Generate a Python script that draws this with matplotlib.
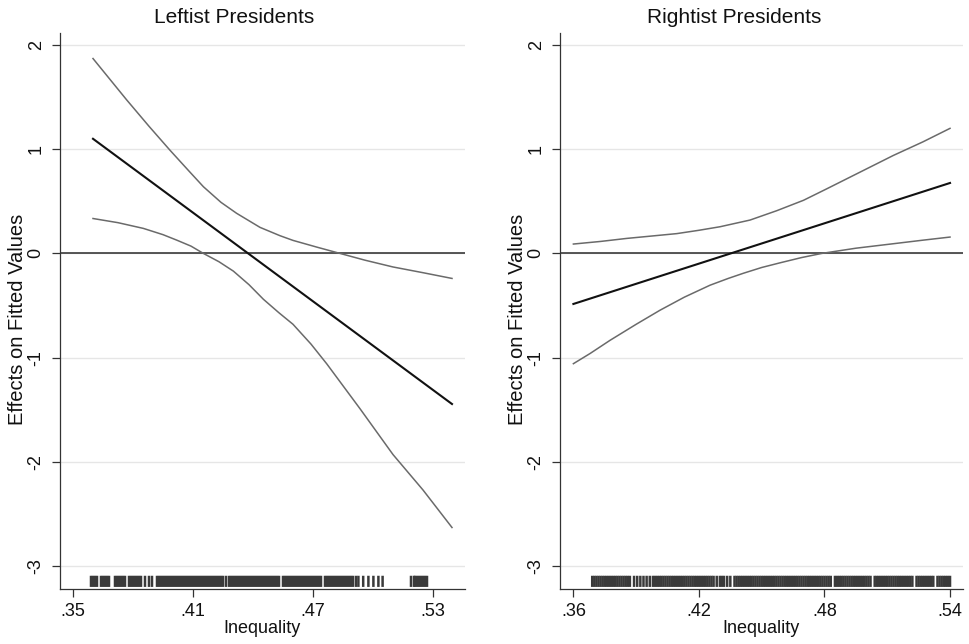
import matplotlib
matplotlib.use("Agg")
import matplotlib.pyplot as plt

plt.rcParams['font.family'] = ['Liberation Sans', 'DejaVu Sans']

# ---------------- data ----------------
titles = ["Leftist Presidents", "Rightist Presidents"]
y_label = "Effects on Fitted Values"
x_label = "Inequality"
y_ticks = [-3, -2, -1, 0, 1, 2]
y_tick_labels = ["-3", "-2", "-1", "0", "1", "2"]

left_x_ticks = [0.35, 0.41, 0.47, 0.53]
left_x_tick_labels = [".35", ".41", ".47", ".53"]
right_x_ticks = [0.36, 0.42, 0.48, 0.54]
right_x_tick_labels = [".36", ".42", ".48", ".54"]

# Leftist presidents
left_fit_x = [0.360, 0.5395]
left_fit_y = [1.10, -1.445]
left_upper_x = [0.360, 0.3768, 0.3880, 0.3985, 0.4080, 0.4152, 0.4240, 0.4318, 0.4435, 0.4535, 0.4600, 0.4720, 0.4835, 0.4960, 0.5100, 0.5250, 0.5395]
left_upper_y = [1.87, 1.474, 1.22, 0.99, 0.79, 0.64, 0.49, 0.385, 0.250, 0.170, 0.125, 0.060, 0.0, -0.065, -0.13, -0.185, -0.24]
left_lower_x = [0.360, 0.3725, 0.3852, 0.3950, 0.4018, 0.4090, 0.4152, 0.4230, 0.4302, 0.4380, 0.4452, 0.4530, 0.4600, 0.4690, 0.4769, 0.4935, 0.5100, 0.5250, 0.5395]
left_lower_y = [0.335, 0.295, 0.24, 0.18, 0.128, 0.07, 0.0, -0.08, -0.17, -0.30, -0.44, -0.57, -0.68, -0.87, -1.06, -1.49, -1.93, -2.27, -2.63]
left_rug = [0.359, 0.360, 0.361, 0.362, 0.364, 0.365, 0.366, 0.367, 0.368,
            0.371, 0.372, 0.373, 0.374, 0.375, 0.376, 0.378, 0.379, 0.380, 0.381,
            0.382, 0.383, 0.384, 0.386, 0.388, 0.3895,
            0.392, 0.393, 0.394, 0.395, 0.396, 0.397, 0.398, 0.399, 0.400, 0.401,
            0.402, 0.403, 0.404, 0.405, 0.406, 0.407, 0.408, 0.409, 0.410, 0.411,
            0.412, 0.413, 0.414, 0.415, 0.416, 0.417, 0.418, 0.419, 0.420, 0.421,
            0.422, 0.423, 0.424, 0.425, 0.4265, 0.428,
            0.429, 0.430, 0.431, 0.432, 0.433, 0.434, 0.435, 0.436, 0.437, 0.438,
            0.439, 0.440, 0.441, 0.442, 0.443, 0.444, 0.445, 0.446, 0.447, 0.448,
            0.449, 0.450, 0.451, 0.452, 0.453,
            0.455, 0.456, 0.457, 0.458, 0.459, 0.460, 0.461, 0.462, 0.463, 0.464,
            0.465, 0.466, 0.467, 0.468, 0.469, 0.470, 0.471, 0.472, 0.473, 0.474,
            0.476, 0.477, 0.478, 0.479, 0.480, 0.481, 0.482, 0.483, 0.484, 0.485,
            0.486, 0.487, 0.488, 0.489, 0.490, 0.4915,
            0.4927, 0.4951, 0.4977, 0.5002, 0.5027, 0.5048,
            0.519, 0.5205, 0.521, 0.522, 0.523, 0.524, 0.525, 0.526, 0.527]

# Rightist presidents
right_fit_x = [0.360, 0.540]
right_fit_y = [-0.485, 0.676]
right_upper_x = [0.360, 0.3730, 0.3855, 0.3980, 0.4094, 0.4200, 0.4301, 0.4444, 0.4572, 0.4700, 0.4811, 0.4970, 0.5129, 0.5270, 0.5400]
right_upper_y = [0.09, 0.115, 0.144, 0.168, 0.19, 0.222, 0.256, 0.32, 0.41, 0.51, 0.62, 0.78, 0.94, 1.07, 1.20]
right_lower_x = [0.360, 0.3680, 0.3775, 0.3900, 0.4014, 0.4130, 0.4253, 0.4340, 0.4413, 0.4500, 0.4588, 0.4690, 0.4787, 0.4950, 0.5129, 0.5270, 0.5400]
right_lower_y = [-1.058, -0.96, -0.834, -0.68, -0.545, -0.42, -0.305, -0.24, -0.19, -0.135, -0.09, -0.04, 0.0, 0.05, 0.093, 0.127, 0.157]
right_rug = [0.369, 0.370, 0.371, 0.372, 0.373, 0.374, 0.375, 0.376, 0.377, 0.378,
             0.379, 0.380, 0.381, 0.382, 0.383, 0.384, 0.385, 0.386, 0.387,
             0.389, 0.3905, 0.392, 0.3935, 0.395, 0.3965,
             0.398, 0.399, 0.400, 0.401, 0.402, 0.403, 0.404, 0.405, 0.406, 0.407,
             0.408, 0.409, 0.410, 0.411, 0.412, 0.413, 0.414, 0.415, 0.416, 0.417,
             0.418, 0.419, 0.420, 0.421, 0.422, 0.423, 0.424, 0.425, 0.426, 0.427,
             0.4285, 0.430, 0.431, 0.432, 0.4335, 0.435,
             0.437, 0.438, 0.439, 0.440, 0.441, 0.442, 0.443, 0.444, 0.445, 0.446,
             0.447, 0.448, 0.449, 0.450, 0.451, 0.452, 0.453, 0.454, 0.455, 0.456,
             0.457, 0.458, 0.459, 0.460, 0.461, 0.462, 0.463, 0.464, 0.465, 0.466,
             0.467, 0.468, 0.469, 0.470, 0.471, 0.472, 0.473, 0.474, 0.475, 0.476,
             0.477, 0.478, 0.479, 0.480, 0.481, 0.482, 0.483,
             0.485, 0.486, 0.487, 0.488, 0.489, 0.490, 0.491, 0.492, 0.493, 0.494,
             0.495, 0.496, 0.497, 0.498, 0.499, 0.500, 0.501, 0.502,
             0.504, 0.505, 0.506, 0.507, 0.508, 0.509, 0.510, 0.511, 0.512, 0.513,
             0.514, 0.515, 0.516, 0.517, 0.518, 0.519, 0.520, 0.521, 0.522,
             0.524, 0.525, 0.526, 0.527, 0.528, 0.529, 0.530, 0.531, 0.532,
             0.534, 0.535, 0.536, 0.537, 0.538, 0.539, 0.540]

# ---------------- figure ----------------
W, H = 970, 644
fig = plt.figure(figsize=(W / 100, H / 100), dpi=100)
fig.patch.set_facecolor("white")

def px_axes(x0, x1, y0, y1):
    return fig.add_axes([x0 / W, 1 - y1 / H, (x1 - x0) / W, (y1 - y0) / H])

ax_l = px_axes(60, 465, 33, 589)
ax_r = px_axes(560, 963, 33, 589)

panels = [
    (ax_l, (0.3435, 0.546), left_x_ticks, left_x_tick_labels, left_fit_x, left_fit_y,
     left_upper_x, left_upper_y, left_lower_x, left_lower_y, left_rug, titles[0], 234),
    (ax_r, (0.3536, 0.5462), right_x_ticks, right_x_tick_labels, right_fit_x, right_fit_y,
     right_upper_x, right_upper_y, right_lower_x, right_lower_y, right_rug, titles[1], 734),
]

grid_color = "#e6e6e6"
ci_color = "#6a6a6a"

for (ax, xlim, xt, xtl, fx, fy, ux, uy, lx, ly, rug, title, tx) in panels:
    ax.set_xlim(*xlim)
    ax.set_ylim(-3.22, 2.115)
    for y in y_ticks:
        ax.axhline(y, color=grid_color, lw=1.0, zorder=0)
    ax.axhline(0, color="#3a3a3a", lw=1.2, zorder=2)
    ax.plot(ux, uy, color=ci_color, lw=1.1, zorder=3)
    ax.plot(lx, ly, color=ci_color, lw=1.1, zorder=3)
    ax.plot(fx, fy, color="#111111", lw=1.5, zorder=4)
    ax.vlines(rug, -3.2, -3.093, color="#3a3a3a", lw=1.8, zorder=3,
              snap=False, antialiased=True)

    ax.set_xticks(xt)
    ax.set_xticklabels(xtl)
    ax.set_yticks(y_ticks)
    ax.set_yticklabels(y_tick_labels, rotation=90, va="center")
    ax.tick_params(axis="both", direction="out", length=6, width=0.9,
                   color="#333333", labelsize=13, labelcolor="#111111")
    ax.tick_params(axis="x", pad=4)
    ax.tick_params(axis="y", pad=5)
    for s in ["top", "right"]:
        ax.spines[s].set_visible(False)
    for s in ["left", "bottom"]:
        ax.spines[s].set_color("#333333")
        ax.spines[s].set_linewidth(0.9)
    ax.set_xlabel(x_label, fontsize=13, labelpad=0, color="#111111")
    ax.set_ylabel(y_label, fontsize=14.5, color="#111111", va="center")
    ax.yaxis.set_label_coords(-0.105, 0.485)
    fig.text(tx / W, 1 - 17.5 / H, title, ha="center", va="center",
             fontsize=15, color="#111111")

fig.savefig("out.png", dpi=100, facecolor="white")
